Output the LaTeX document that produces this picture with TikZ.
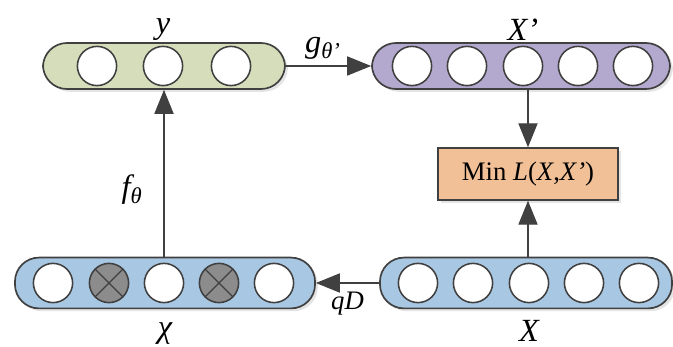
\documentclass[tikz,border=0pt]{standalone}
\usepackage{fontspec}
\setmainfont{Liberation Serif}
\usetikzlibrary{
  arrows.meta,
  positioning,
  shadows
}
\definecolor{xgreen}{RGB}{213,221,186}
\definecolor{xlilac}{RGB}{179,168,205}
\definecolor{xblue}{RGB}{168,199,226}
\definecolor{xpeach}{RGB}{242,192,151}
\definecolor{xgray}{RGB}{140,140,140}
\definecolor{xline}{RGB}{64,64,64}

\begin{document}
\begin{tikzpicture}[x=0.025cm, y=-0.025cm,
  bar/.style={draw=xline, line width=1.2pt, rounded corners=0.6cm,
              minimum height=1.15cm,
              drop shadow={shadow xshift=2pt, shadow yshift=-2pt, fill=black!30, opacity=0.35}},
  unit/.style={circle, draw=xline, fill=white, line width=1.1pt,
               minimum size=0.98cm, inner sep=0pt},
  noisy/.style={unit, fill=xgray,
                path picture={\draw[xline, line width=1pt]
                  (path picture bounding box.north west) -- (path picture bounding box.south east)
                  (path picture bounding box.north east) -- (path picture bounding box.south west);}},
  lossbox/.style={draw=xline, fill=xpeach, line width=1pt,
                  minimum width=4.5cm, minimum height=1.3cm,
                  font=\fontsize{19}{22}\selectfont,
                  drop shadow={shadow xshift=2pt, shadow yshift=-2pt, fill=black!30, opacity=0.35}},
  arr/.style={-{Triangle[length=0.6cm, width=0.48cm]}, draw=xline, line width=0.8pt},
  lbl/.style={font=\fontsize{23}{26}\selectfont\itshape, inner sep=1pt}
]
  \useasboundingbox (0,0) rectangle (673,347);

  % hidden code y
  \node[bar, fill=xgreen, minimum width=6.05cm] (ybar) at (164,66) {};
  \node[unit] (y1) at (97,66) {};
  \node[unit] (y2) at (163,66) {};
  \node[unit] (y3) at (231,66) {};

  % reconstruction X'
  \node[bar, fill=xlilac, minimum width=7.45cm] (xpbar) at (521,66) {};
  \node[unit] (xp1) at (412,66) {};
  \node[unit] (xp2) at (467,66) {};
  \node[unit] (xp3) at (523,66) {};
  \node[unit] (xp4) at (578,66) {};
  \node[unit] (xp5) at (633,66) {};

  % corrupted input
  \node[bar, fill=xblue, minimum width=7.5cm, minimum height=1.27cm] (cbar) at (165,283) {};
  \node[unit]  (c1) at (53,283) {};
  \node[noisy] (c2) at (109,283) {};
  \node[unit]  (c3) at (164,283) {};
  \node[noisy] (c4) at (219,283) {};
  \node[unit]  (c5) at (274,283) {};

  % clean input X
  \node[bar, fill=xblue, minimum width=7.3cm, minimum height=1.27cm] (xbar) at (526,283) {};
  \node[unit] (x1) at (418,283) {};
  \node[unit] (x2) at (473,283) {};
  \node[unit] (x3) at (529,283) {};
  \node[unit] (x4) at (584,283) {};
  \node[unit] (x5) at (639,283) {};

  \node[lossbox] (loss) at (528,174) {Min \textit{L}(\textit{X},\textit{X’})};

  \node[lbl, above=0pt of y2.north |- ybar.north]   (ylbl)  {y};
  \node[lbl, above=0pt of xp3.north |- xpbar.north] (xplbl) {X’};
  \node[lbl, below=8pt of cbar]  (clbl)  {χ};
  \node[lbl, below=7pt of x3.south |- xbar.south]   (xlbl)  {X};

  \draw[arr] (ybar.east) -- node[lbl, above=3pt, xshift=-4pt]{g\textsubscript{θ'}} (xpbar.west);
  \draw[arr] (loss |- xpbar.south) -- (loss.north);
  \draw[arr] (loss |- xbar.north) -- (loss.south);
  \draw[arr] (xbar.west) -- node[lbl, below=5pt, font=\fontsize{19}{22}\selectfont\itshape]{qD} (cbar.east);
  \draw[arr] (ybar |- cbar.north) -- node[lbl, left=14pt, pos=0.4]{f\textsubscript{θ}} (ybar.south);
\end{tikzpicture}
\end{document}
